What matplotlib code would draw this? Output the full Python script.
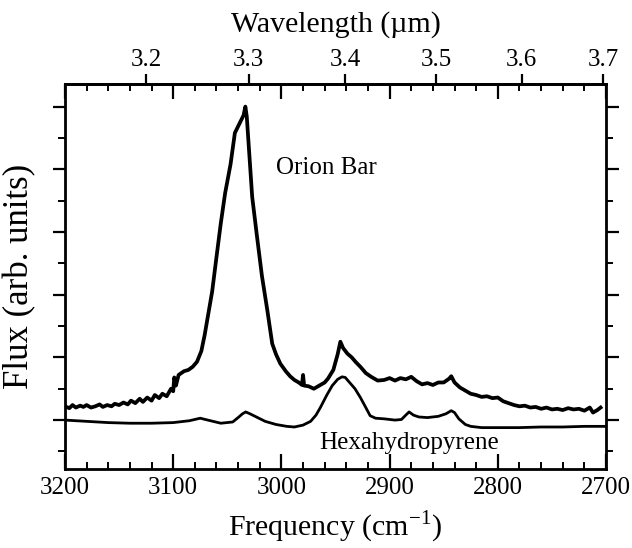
import numpy as np
import matplotlib
matplotlib.use("Agg")
import matplotlib.pyplot as plt
from matplotlib.ticker import MultipleLocator, FixedLocator, NullFormatter

plt.rcParams['font.family'] = ['Liberation Serif', 'DejaVu Serif']
plt.rcParams['mathtext.fontset'] = 'custom'
plt.rcParams['mathtext.rm'] = 'Liberation Serif'

# ---- data ----
orion_freq = [3200, 3196, 3193, 3190, 3186, 3183, 3180, 3176, 3172, 3168, 3165, 3161,
              3157, 3154, 3150, 3146, 3142, 3139, 3135, 3131, 3128, 3124, 3120, 3117,
              3113, 3110, 3106, 3102, 3100, 3099, 3097.5, 3095, 3090, 3086, 3082, 3078,
              3074, 3071, 3068, 3064, 3060, 3056, 3052, 3047, 3043, 3039, 3035, 3033.3,
              3032, 3029.5, 3027, 3022.5, 3018, 3013, 3008.5, 3005, 3001, 2996, 2992,
              2988, 2984, 2981, 2980, 2979, 2975, 2970, 2965, 2960, 2957, 2952, 2948,
              2945.5, 2943, 2939, 2935, 2931, 2927, 2922, 2917, 2911, 2905, 2900, 2895,
              2890, 2885, 2880, 2875, 2870, 2865, 2860, 2855, 2850, 2845, 2843, 2840,
              2835, 2830, 2825, 2820, 2815, 2810, 2805, 2800, 2795, 2790, 2785, 2780,
              2775, 2770, 2765, 2760, 2755, 2750, 2745, 2740, 2735, 2730, 2725, 2720,
              2715, 2712, 2708, 2705]
orion_flux = [0.22, 0.19, 0.24, 0.20, 0.23, 0.21, 0.24, 0.20, 0.22, 0.25, 0.21, 0.24,
              0.22, 0.26, 0.24, 0.28, 0.25, 0.31, 0.27, 0.34, 0.29, 0.36, 0.31, 0.40,
              0.35, 0.42, 0.38, 0.50, 0.46, 0.68, 0.55, 0.72, 0.78, 0.80, 0.85, 0.93,
              1.10, 1.35, 1.65, 2.05, 2.60, 3.14, 3.62, 4.08, 4.58, 4.72, 4.86, 5.00,
              4.84, 4.20, 3.56, 2.92, 2.30, 1.75, 1.22, 1.05, 0.90, 0.78, 0.70,
              0.64, 0.60, 0.56, 0.72, 0.55, 0.54, 0.50, 0.55, 0.60, 0.66, 0.80, 1.05,
              1.25, 1.15, 1.06, 1.00, 0.92, 0.85, 0.75, 0.69, 0.63, 0.64, 0.67, 0.63,
              0.67, 0.65, 0.69, 0.62, 0.57, 0.59, 0.56, 0.60, 0.60, 0.66, 0.70, 0.60,
              0.52, 0.47, 0.42, 0.40, 0.37, 0.38, 0.35, 0.36, 0.30, 0.27, 0.24, 0.22,
              0.23, 0.20, 0.21, 0.18, 0.20, 0.17, 0.18, 0.16, 0.19, 0.17, 0.18, 0.15,
              0.20, 0.12, 0.16, 0.20]

hexa_freq = [3200, 3180, 3160, 3140, 3120, 3100, 3085, 3075, 3068, 3056, 3045, 3040,
             3036, 3033, 3029, 3022, 3015, 3005, 2995, 2988, 2980, 2973, 2968, 2964,
             2958, 2953, 2948, 2944, 2941, 2937, 2932, 2927, 2922, 2918, 2913, 2905,
             2895, 2889, 2885, 2882, 2878, 2873, 2865, 2855, 2848, 2843, 2840, 2836,
             2830, 2825, 2815, 2800, 2780, 2760, 2740, 2720, 2700]
hexa_flux = [0.00, -0.02, -0.04, -0.05, -0.05, -0.04, -0.01, 0.03, 0.00, -0.05, -0.03, 0.04,
             0.10, 0.13, 0.10, 0.04, -0.02, -0.07, -0.10, -0.11, -0.08, -0.02, 0.08, 0.20,
             0.40, 0.55, 0.65, 0.69, 0.68, 0.60, 0.50, 0.36, 0.20, 0.07, 0.03, 0.02,
             0.00, 0.01, 0.08, 0.13, 0.08, 0.05, 0.04, 0.06, 0.10, 0.15, 0.12, 0.02,
             -0.07, -0.10, -0.12, -0.12, -0.12, -0.11, -0.11, -0.10, -0.10]

wavelength_ticks = [3.2, 3.3, 3.4, 3.5, 3.6, 3.7]
freq_ticks = [3200, 3100, 3000, 2900, 2800, 2700]

# ---- figure ----
fig = plt.figure(figsize=(6.32, 5.48), dpi=100)
ax = fig.add_axes([65/632, 1 - 469/548, 541/632, 385/548])

ax.plot(orion_freq, orion_flux, color='black', lw=2.7, solid_joinstyle='round')
ax.plot(hexa_freq, hexa_flux, color='black', lw=2.0)

ax.set_xlim(3200, 2700)
ax.set_ylim(-0.78, 5.36)

for s in ax.spines.values():
    s.set_linewidth(2.0)

ax.xaxis.set_major_locator(FixedLocator(freq_ticks))
ax.xaxis.set_minor_locator(MultipleLocator(20))
ax.yaxis.set_major_locator(MultipleLocator(1))
ax.yaxis.set_minor_locator(MultipleLocator(0.5))
ax.yaxis.set_major_formatter(NullFormatter())

ax.tick_params(axis='x', which='major', direction='in', length=11, width=1.6,
               top=True, bottom=True, labelsize=18, pad=6)
ax.tick_params(axis='x', which='minor', direction='in', length=5, width=1.4,
               top=True, bottom=True)
ax.tick_params(axis='y', which='major', direction='out', length=9, width=1.6,
               left=True, right=True)
ax.tick_params(axis='y', which='minor', direction='out', length=5, width=1.4,
               left=True, right=True)

ax.set_xlabel(r'Frequency (cm$^{\mathregular{-1}}$)', fontsize=21.5, labelpad=7)
ax.set_ylabel('Flux (arb. units)', fontsize=25, labelpad=8)


def f2w(f):
    f = np.asarray(f, dtype=float)
    with np.errstate(divide='ignore', invalid='ignore'):
        return np.where(f != 0, 1e4 / np.where(f != 0, f, 1), np.inf)


secax = ax.secondary_xaxis('top', functions=(f2w, f2w))
secax.xaxis.set_major_locator(FixedLocator(wavelength_ticks))
secax.xaxis.set_minor_locator(FixedLocator([]))
secax.tick_params(axis='x', which='major', direction='out', length=7, width=1.6,
                  labelsize=18, pad=2)
secax.spines['top'].set_linewidth(2.0)
secax.set_xlabel('Wavelength (\u00b5m)', fontsize=21.5, labelpad=13)

ax.text(2958, 4.02, 'Orion Bar', fontsize=18, ha='center', va='center')
ax.text(2882, -0.37, 'Hexahydropyrene', fontsize=18, ha='center', va='center')

fig.savefig('out.png', dpi=100)
